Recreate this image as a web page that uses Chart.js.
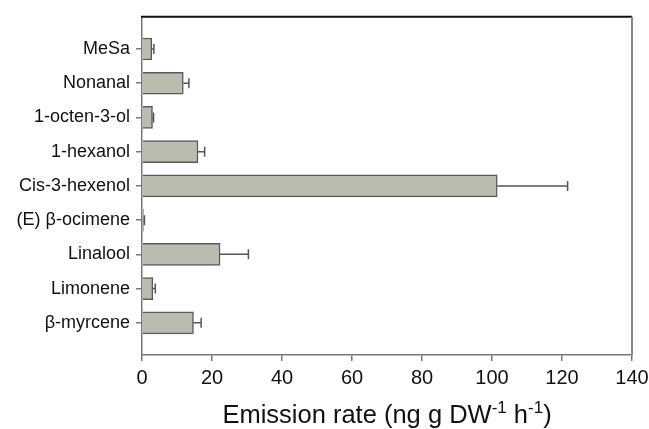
<!DOCTYPE html>
<html>
<head>
<meta charset="utf-8">
<script src="https://cdn.jsdelivr.net/npm/chart.js@4"></script>
<style>
    html, body { margin: 0; padding: 0; background: #fff; }
    #wrap { width: 649px; height: 429px; }
</style>
</head>
<body>
<div id="wrap"><canvas id="chart" width="649" height="429"></canvas></div>
<script>
// compounds, top to bottom
const compounds = ['MeSa', 'Nonanal', '1-octen-3-ol', '1-hexanol', 'Cis-3-hexenol',
    '(E) β-ocimene', 'Linalool', 'Limonene', 'β-myrcene']
// emission rate and its error (only drawn to the right)
const emission = [2.8, 11.8, 3.0, 16.0, 101.5, 0.4, 22.3, 3.1, 14.7]
const emissionErr = [0.6, 1.6, 0.3, 1.9, 20.1, 0.3, 8.1, 0.7, 2.2]
const xTicks = [0, 20, 40, 60, 80, 100, 120, 140]

Chart.defaults.font.family = '"Liberation Sans", Arial, sans-serif'
Chart.defaults.color = '#111'

const errorBars = {
    id: 'errorBars',
    afterDatasetsDraw(chart) {
        const ctx = chart.ctx
        const xs = chart.scales.x
        const meta = chart.getDatasetMeta(0)
        ctx.save()
        ctx.strokeStyle = '#555'
        ctx.lineWidth = 1.5
        meta.data.forEach((bar, i) => {
            const xe = xs.getPixelForValue(emission[i] + emissionErr[i])
            ctx.beginPath()
            ctx.moveTo(bar.x, bar.y)
            ctx.lineTo(xe, bar.y)
            ctx.moveTo(xe, bar.y - 5)
            ctx.lineTo(xe, bar.y + 5)
            ctx.stroke()
        })
        ctx.restore()
    }
}

// top and right border of the frame
const frame = {
    id: 'frame',
    afterDraw(chart) {
        const { ctx, chartArea: a } = chart
        ctx.save()
        ctx.lineWidth = 2
        ctx.strokeStyle = '#111'
        ctx.beginPath()
        ctx.moveTo(a.left - 1, a.top)
        ctx.lineTo(a.right, a.top)
        ctx.stroke()
        ctx.strokeStyle = '#888'
        ctx.beginPath()
        ctx.moveTo(a.right, a.top)
        ctx.lineTo(a.right, a.bottom)
        ctx.stroke()
        ctx.restore()
    }
}

// x axis title with superscripts
const xTitle = {
    id: 'xTitle',
    afterDraw(chart) {
        const { ctx, chartArea: a } = chart
        const big = 25.5, small = 17
        const parts = [
            ['Emission rate (ng g DW', big, 0],
            ['-1', small, -10],
            [' h', big, 0],
            ['-1', small, -10],
            [')', big, 0]
        ]
        ctx.save()
        ctx.fillStyle = '#111'
        ctx.textBaseline = 'alphabetic'
        let total = 0
        parts.forEach(p => {
            ctx.font = p[1] + 'px "Liberation Sans", Arial, sans-serif'
            total += ctx.measureText(p[0]).width
        })
        let x = (a.left + a.right) / 2 - total / 2
        const base = 423
        parts.forEach(p => {
            ctx.font = p[1] + 'px "Liberation Sans", Arial, sans-serif'
            ctx.fillText(p[0], x, base + p[2])
            x += ctx.measureText(p[0]).width
        })
        ctx.restore()
    }
}

new Chart(document.getElementById('chart').getContext('2d'), {
    type: 'bar',
    data: {
        datasets: [{
            data: compounds.map((c, i) => ({ x: emission[i], y: i + 1 })),
            backgroundColor: '#bbbcad',
            borderColor: '#5a5a5a',
            borderWidth: 1.5,
            barThickness: 22
        }]
    },
    options: {
        indexAxis: 'y',
        responsive: false,
        animation: false,
        layout: { padding: { top: 12, right: 17, left: 0, bottom: 0 } },
        plugins: {
            legend: { display: false },
            tooltip: { enabled: false }
        },
        scales: {
            x: {
                type: 'linear',
                min: 0,
                max: 140,
                afterBuildTicks: s => { s.ticks = xTicks.map(v => ({ value: v })) },
                afterFit: s => { s.height = 74; s.paddingRight = 0 },
                ticks: { font: { size: 20 }, padding: 5, maxRotation: 0 },
                grid: { drawOnChartArea: false, tickLength: 6, color: '#777', lineWidth: 1.5 },
                border: { color: '#777', width: 1.5 }
            },
            y: {
                type: 'linear',
                reverse: true,
                offset: false,
                min: 0.06,
                max: 9.94,
                afterBuildTicks: s => { s.ticks = compounds.map((c, i) => ({ value: i + 1 })) },
                afterFit: s => { s.width = 142 },
                ticks: {
                    autoSkip: false,
                    font: { size: 18 },
                    padding: 6,
                    callback: v => compounds[v - 1]
                },
                grid: { offset: false, drawOnChartArea: false, tickLength: 6, color: '#777', lineWidth: 1.5 },
                border: { color: '#777', width: 1.5 }
            }
        }
    },
    plugins: [errorBars, frame, xTitle]
})
</script>
</body>
</html>
